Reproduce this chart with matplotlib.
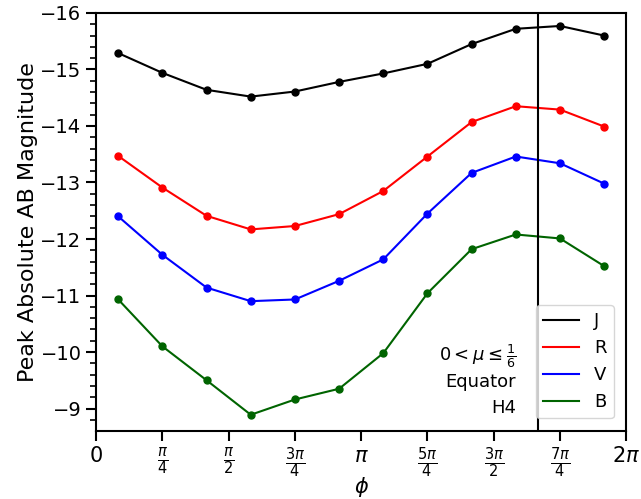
import numpy as np
import matplotlib.pyplot as plt
from matplotlib.lines import Line2D

# viewing angle phi: centres of 12 bins over [0, 2pi]
phi = (2 * np.arange(12) + 1) * np.pi / 12

mag_J = [-15.29, -14.94, -14.64, -14.52, -14.61, -14.78, -14.93, -15.10, -15.45, -15.72, -15.77, -15.60]
mag_R = [-13.47, -12.91, -12.41, -12.17, -12.23, -12.44, -12.85, -13.46, -14.07, -14.35, -14.29, -13.99]
mag_V = [-12.40, -11.72, -11.14, -10.90, -10.93, -11.26, -11.64, -12.45, -13.17, -13.46, -13.34, -12.98]
mag_B = [-10.93, -10.10, -9.50, -8.89, -9.16, -9.35, -9.98, -11.04, -11.82, -12.08, -12.01, -11.52]

bands = ['J', 'R', 'V', 'B']
colors = ['black', 'red', 'blue', 'darkgreen']

xtick_vals = np.arange(9) * np.pi / 4
xtick_labels = ['0', r'$\frac{\pi}{4}$', r'$\frac{\pi}{2}$', r'$\frac{3\pi}{4}$', r'$\pi$',
                r'$\frac{5\pi}{4}$', r'$\frac{3\pi}{2}$', r'$\frac{7\pi}{4}$', r'$2\pi$']

note_lines = [r'$0 < \mu \leq \frac{1}{6}$', 'Equator', 'H4']

fig = plt.figure(figsize=(6.41, 4.99), dpi=100)
ax = fig.add_axes([0.150, 0.136, 0.827, 0.838])

for mags, c in zip([mag_J, mag_R, mag_V, mag_B], colors):
    ax.plot(phi, mags, color=c, lw=1.5, marker='o', ms=5)

ax.axvline(5 * np.pi / 3, color='black', lw=1.5)

ax.set_xlim(0, 2 * np.pi)
ax.set_ylim(-8.6, -16)
ax.set_xticks(xtick_vals)
ax.set_xticklabels(xtick_labels)
ax.set_yticks(np.arange(-16, -8.5, 1))
ax.set_yticks(np.arange(-16, -8.6, 0.2), minor=True)
ax.tick_params(axis='x', which='major', labelsize=15, length=7, width=1.5)
ax.tick_params(axis='y', which='major', labelsize=14, length=7, width=1.5)
ax.tick_params(axis='y', which='minor', length=4, width=1.2)
for sp in ax.spines.values():
    sp.set_linewidth(1.5)

ax.set_xlabel(r'$\phi$', fontsize=15, labelpad=-4)
ax.set_ylabel('Peak Absolute AB Magnitude', fontsize=16, labelpad=2)

# note beside the legend, one baseline per line
for txt, yb in zip(note_lines, [0.167, 0.105, 0.043]):
    ax.text(0.792, yb, txt, transform=ax.transAxes, ha='right', va='baseline', fontsize=13)

handles = [Line2D([], [], color=c, lw=1.5) for c in colors]
ax.legend(handles, bands, loc='lower right', fontsize=13, handlelength=2.0,
          borderaxespad=0.7)

fig.savefig('out.png', dpi=100)
